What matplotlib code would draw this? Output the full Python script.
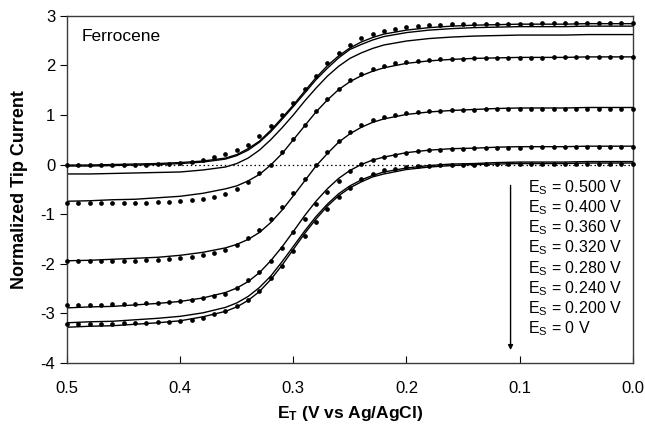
import numpy as np
import matplotlib
matplotlib.use("Agg")
import matplotlib.pyplot as plt

plt.rcParams['font.family'] = ['Liberation Sans', 'DejaVu Sans']
plt.rcParams['mathtext.fontset'] = 'custom'
plt.rcParams['mathtext.rm'] = 'Liberation Sans'
plt.rcParams['mathtext.bf'] = 'Liberation Sans:bold'
plt.rcParams['axes.unicode_minus'] = False

# tip potential for the simulated curves (V vs Ag/AgCl)
e_line = [0.50, 0.48, 0.46, 0.44, 0.42, 0.40, 0.38, 0.36, 0.35, 0.34, 0.33,
          0.32, 0.31, 0.30, 0.29, 0.28, 0.27, 0.26, 0.25, 0.24, 0.23, 0.22,
          0.20, 0.18, 0.16, 0.14, 0.12, 0.10, 0.08, 0.06, 0.04, 0.02, 0.00]

# simulated curves, Es = 0.500 ... 0 V
sim_500 = [-0.01, -0.01, 0.00, 0.01, 0.02, 0.04, 0.07, 0.13, 0.20, 0.32, 0.47,
           0.69, 0.94, 1.20, 1.48, 1.75, 1.99, 2.19, 2.35, 2.47, 2.56, 2.63,
           2.71, 2.76, 2.79, 2.81, 2.82, 2.83, 2.83, 2.83, 2.84, 2.84, 2.84]
sim_400 = [-0.03, -0.03, -0.02, -0.01, 0.00, 0.02, 0.05, 0.11, 0.18, 0.29, 0.45,
           0.66, 0.91, 1.17, 1.44, 1.71, 1.94, 2.15, 2.32, 2.42, 2.51, 2.58,
           2.66, 2.71, 2.74, 2.76, 2.77, 2.78, 2.78, 2.78, 2.79, 2.79, 2.79]
sim_360 = [-0.19, -0.19, -0.18, -0.17, -0.16, -0.15, -0.11, -0.05, 0.02, 0.13, 0.29,
           0.50, 0.74, 1.00, 1.28, 1.54, 1.78, 1.98, 2.14, 2.25, 2.34, 2.41,
           2.49, 2.54, 2.57, 2.59, 2.60, 2.61, 2.61, 2.61, 2.62, 2.62, 2.62]
sim_320 = [-0.74, -0.73, -0.71, -0.70, -0.67, -0.64, -0.58, -0.49, -0.43, -0.33, -0.20,
           -0.01, 0.22, 0.50, 0.78, 1.06, 1.30, 1.51, 1.67, 1.79, 1.88, 1.95,
           2.04, 2.09, 2.12, 2.14, 2.15, 2.16, 2.16, 2.16, 2.17, 2.17, 2.17]
sim_280 = [-1.94, -1.93, -1.91, -1.89, -1.87, -1.83, -1.77, -1.68, -1.61, -1.51, -1.37,
           -1.17, -0.92, -0.63, -0.33, -0.03, 0.22, 0.45, 0.62, 0.75, 0.85, 0.92,
           1.01, 1.06, 1.09, 1.11, 1.13, 1.14, 1.14, 1.14, 1.15, 1.15, 1.15]
sim_240 = [-2.89, -2.87, -2.86, -2.83, -2.80, -2.76, -2.69, -2.58, -2.49, -2.36, -2.18,
           -1.94, -1.66, -1.35, -1.03, -0.74, -0.49, -0.28, -0.12, 0.00, 0.09, 0.15,
           0.24, 0.29, 0.32, 0.33, 0.35, 0.36, 0.36, 0.36, 0.37, 0.37, 0.37]
sim_200 = [-3.19, -3.17, -3.16, -3.13, -3.10, -3.06, -2.99, -2.88, -2.79, -2.66, -2.48,
           -2.25, -1.96, -1.65, -1.34, -1.05, -0.80, -0.59, -0.43, -0.31, -0.22, -0.15,
           -0.07, -0.02, 0.01, 0.02, 0.04, 0.05, 0.05, 0.05, 0.06, 0.06, 0.06]
sim_0 = [-3.28, -3.26, -3.25, -3.22, -3.19, -3.15, -3.07, -2.96, -2.87, -2.74, -2.56,
         -2.32, -2.03, -1.71, -1.39, -1.10, -0.84, -0.63, -0.47, -0.35, -0.25, -0.19,
         -0.10, -0.05, -0.02, 0.00, 0.01, 0.02, 0.02, 0.02, 0.03, 0.03, 0.03]

# experimental points, every 10 mV from 0.50 to 0.00 V
e_exp = np.round(np.arange(50, -1, -1) / 100.0, 2)
exp_a = [-0.01, -0.01, -0.01, -0.01, -0.01, -0.01, 0.00, 0.00, 0.01, 0.02,
         0.03, 0.06, 0.10, 0.15, 0.21, 0.29, 0.40, 0.57, 0.77, 0.99,
         1.25, 1.53, 1.79, 2.04, 2.24, 2.41, 2.55, 2.64, 2.70, 2.74,
         2.77, 2.79, 2.81, 2.82, 2.83, 2.83, 2.84, 2.84, 2.84, 2.84,
         2.84, 2.84, 2.85, 2.85, 2.85, 2.85, 2.85, 2.85, 2.85, 2.85, 2.85]
exp_b = [-0.78, -0.78, -0.78, -0.78, -0.77, -0.77, -0.77, -0.77, -0.76, -0.75,
         -0.74, -0.72, -0.69, -0.66, -0.59, -0.49, -0.36, -0.18, 0.00, 0.25,
         0.52, 0.79, 1.07, 1.32, 1.52, 1.70, 1.83, 1.93, 1.99, 2.04,
         2.07, 2.09, 2.11, 2.12, 2.13, 2.13, 2.14, 2.14, 2.14, 2.15,
         2.15, 2.15, 2.15, 2.16, 2.16, 2.16, 2.16, 2.16, 2.16, 2.17, 2.17]
exp_c = [-1.95, -1.95, -1.95, -1.95, -1.95, -1.94, -1.94, -1.93, -1.93, -1.91,
         -1.89, -1.87, -1.83, -1.79, -1.72, -1.62, -1.49, -1.32, -1.10, -0.86,
         -0.58, -0.29, 0.00, 0.25, 0.47, 0.66, 0.80, 0.89, 0.96, 1.00,
         1.03, 1.05, 1.07, 1.08, 1.09, 1.10, 1.10, 1.11, 1.11, 1.11,
         1.11, 1.12, 1.12, 1.12, 1.12, 1.12, 1.12, 1.12, 1.12, 1.12, 1.12]
exp_d = [-2.83, -2.83, -2.83, -2.83, -2.82, -2.82, -2.81, -2.80, -2.79, -2.78,
         -2.76, -2.73, -2.69, -2.66, -2.60, -2.48, -2.33, -2.17, -1.94, -1.69,
         -1.37, -1.09, -0.80, -0.55, -0.34, -0.13, 0.01, 0.10, 0.15, 0.20,
         0.24, 0.27, 0.29, 0.30, 0.31, 0.32, 0.33, 0.33, 0.34, 0.34,
         0.34, 0.35, 0.35, 0.35, 0.35, 0.35, 0.36, 0.36, 0.36, 0.36, 0.36]
exp_e = [-3.21, -3.21, -3.21, -3.21, -3.21, -3.20, -3.20, -3.19, -3.18, -3.17,
         -3.15, -3.13, -3.09, -3.02, -2.96, -2.86, -2.73, -2.54, -2.28, -2.05,
         -1.75, -1.45, -1.15, -0.89, -0.66, -0.47, -0.30, -0.19, -0.12, -0.08,
         -0.05, -0.03, -0.02, -0.01, 0.00, 0.00, 0.00, 0.01, 0.01, 0.01,
         0.01, 0.01, 0.01, 0.01, 0.02, 0.02, 0.02, 0.02, 0.02, 0.02, 0.02]

legend_labels = ['0.500', '0.400', '0.360', '0.320', '0.280', '0.240', '0.200', '0']

fig = plt.figure(figsize=(6.45, 4.25), dpi=100)
ax = fig.add_axes([0.104, 0.146, 0.877, 0.817])

ax.axhline(0, color='black', lw=0.9, ls=(0, (1.2, 2.2)), zorder=1)

for sim in [sim_500, sim_400, sim_360, sim_320, sim_280, sim_240, sim_200, sim_0]:
    ax.plot(e_line, sim, color='black', lw=1.0, zorder=2)

for ex in [exp_a, exp_b, exp_c, exp_d, exp_e]:
    ax.plot(e_exp, ex, 'o', color='black', ms=3.4, mew=0, zorder=3, clip_on=False)

ax.set_xlim(0.5, 0.0)
ax.set_ylim(-4, 3)
ax.set_xticks([0.5, 0.4, 0.3, 0.2, 0.1, 0.0])
ax.set_xticklabels(['0.5', '0.4', '0.3', '0.2', '0.1', '0.0'])
ax.set_yticks(range(-4, 4))
ax.tick_params(axis='x', direction='in', length=5, labelsize=12, pad=13, top=False)
ax.tick_params(axis='y', direction='out', length=5, labelsize=12, right=False)
for sp in ax.spines.values():
    sp.set_color('#3a3a3a')
    sp.set_linewidth(1.0)

ax.set_xlabel(r'$\mathbf{E_T}$ (V vs Ag/AgCl)', fontsize=12.5, fontweight='bold', labelpad=6)
ax.set_ylabel('Normalized Tip Current', fontsize=13, fontweight='bold', labelpad=9)

ax.text(0.487, 2.58, 'Ferrocene', fontsize=12.5, va='center', ha='left')

# legend-like labels with arrow
for i, lab in enumerate(legend_labels):
    ax.text(0.093, -0.47 - 0.405 * i, r'E$_\mathregular{S}$ = ' + lab + ' V',
            fontsize=11.5, va='center', ha='left')
ax.annotate('', xy=(0.108, -3.74), xytext=(0.108, -0.42),
            arrowprops=dict(arrowstyle='-|>', color='black', lw=1.0,
                            mutation_scale=7, shrinkA=0, shrinkB=0))

fig.savefig('out.png', dpi=100)
